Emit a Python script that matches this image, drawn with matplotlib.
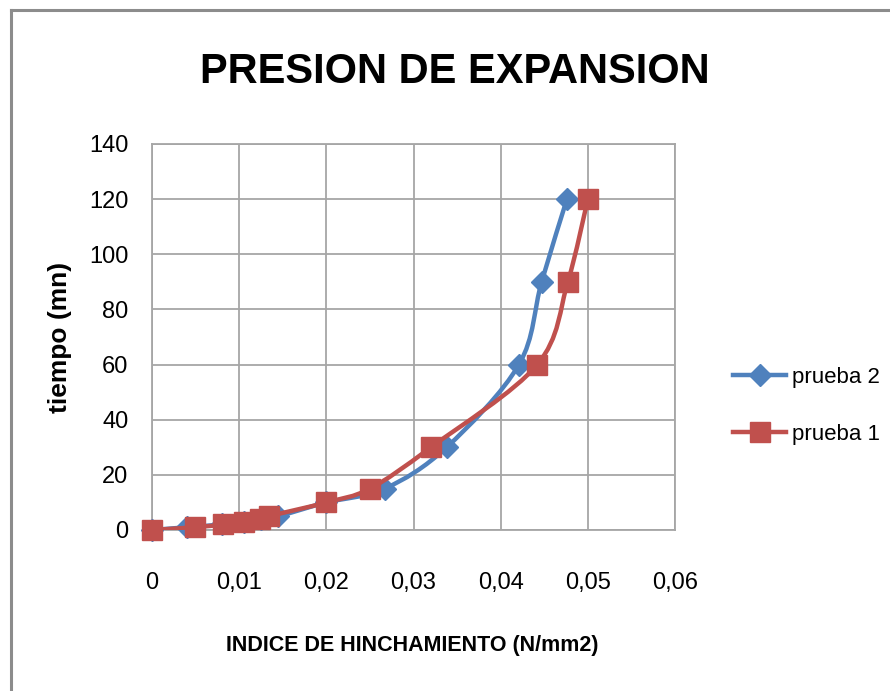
import matplotlib
matplotlib.use("Agg")
import matplotlib.pyplot as plt
from matplotlib.path import Path
from matplotlib.patches import PathPatch
from matplotlib.lines import Line2D
import numpy as np

plt.rcParams['font.family'] = ['Liberation Sans', 'DejaVu Sans']

# datos
tiempo = [0, 1, 2, 3, 4, 5, 10, 15, 30, 60, 90, 120]
indice_p1 = [0, 0.0049, 0.0082, 0.0105, 0.0124, 0.0134, 0.0200, 0.0250, 0.0320, 0.0442, 0.0477, 0.0500]
indice_p2 = [0, 0.0040, 0.0080, 0.0105, 0.0125, 0.0145, 0.0200, 0.0267, 0.0338, 0.0421, 0.0447, 0.0476]

x_ticks = [0, 0.01, 0.02, 0.03, 0.04, 0.05, 0.06]
x_labels = ['0', '0,01', '0,02', '0,03', '0,04', '0,05', '0,06']
y_ticks = [0, 20, 40, 60, 80, 100, 120, 140]

AZUL = '#4F81BD'
ROJO = '#C0504D'
GRIS = '#A6A6A6'


def linea_suave(x, y):
    """curva tipo Excel (Catmull-Rom -> Bezier) como Path"""
    pts = np.column_stack([x, y]).astype(float)
    verts = [pts[0]]
    codes = [Path.MOVETO]
    n = len(pts)
    for i in range(n - 1):
        p0 = pts[i - 1] if i > 0 else pts[i]
        p1 = pts[i]
        p2 = pts[i + 1]
        p3 = pts[i + 2] if i + 2 < n else pts[i + 1]
        c1 = p1 + (p2 - p0) / 6.0
        c2 = p2 - (p3 - p1) / 6.0
        verts += [c1, c2, p2]
        codes += [Path.CURVE4] * 3
    return Path(verts, codes)


W, H = 890, 691
fig = plt.figure(figsize=(W / 100, H / 100), dpi=100)
ax = fig.add_axes([152 / W, 1 - 530 / H, (675 - 152) / W, (530 - 144) / H])

LW = 3.2
# prueba 2 (azul) debajo, prueba 1 (rojo) encima
ax.add_patch(PathPatch(linea_suave(indice_p2, tiempo), fill=False, edgecolor=AZUL,
                       linewidth=LW, zorder=3, capstyle='round', joinstyle='round'))
ax.plot(indice_p2, tiempo, linestyle='none', marker='D', markersize=11,
        color=AZUL, zorder=4, clip_on=False)
ax.add_patch(PathPatch(linea_suave(indice_p1, tiempo), fill=False, edgecolor=ROJO,
                       linewidth=LW, zorder=5, capstyle='round', joinstyle='round'))
ax.plot(indice_p1, tiempo, linestyle='none', marker='s', markersize=14,
        color=ROJO, zorder=6, clip_on=False)

ax.set_xlim(0, 0.06)
ax.set_ylim(0, 140)
ax.set_xticks(x_ticks)
ax.set_xticklabels(x_labels)
ax.set_yticks(y_ticks)
ax.tick_params(length=0, labelsize=17, colors='#000000')
ax.tick_params(axis='x', pad=30)
ax.tick_params(axis='y', pad=17)
ax.grid(True, color=GRIS, linewidth=1.3)
ax.set_axisbelow(True)
for s in ax.spines.values():
    s.set_color(GRIS)
    s.set_linewidth(1.3)

fig.text(60 / W, 1 - 337 / H, 'tiempo (mn)', rotation=90, ha='center', va='center',
         fontsize=19, fontweight='bold')
fig.text(412 / W, 1 - 645 / H, 'INDICE DE HINCHAMIENTO (N/mm2)', ha='center', va='center',
         fontsize=15.5, fontweight='bold')
fig.text(455 / W, 1 - 72 / H, 'PRESION DE EXPANSION', ha='center', va='center',
         fontsize=30, fontweight='bold')

handles = [Line2D([], [], color=AZUL, linewidth=LW, marker='D', markersize=11),
           Line2D([], [], color=ROJO, linewidth=LW, marker='s', markersize=14)]
fig.legend(handles, ['prueba 2', 'prueba 1'], loc='center left', frameon=False,
           bbox_to_anchor=(733 / W, 1 - 406 / H), bbox_transform=fig.transFigure,
           fontsize=16, handlelength=2.4, handletextpad=0.25, labelspacing=1.6,
           borderpad=0, borderaxespad=0)

# marco del grafico
fig.add_artist(Line2D([11 / W, 11 / W], [0, 1 - 10 / H], color='#8C8C8C', linewidth=2.2,
                      transform=fig.transFigure))
fig.add_artist(Line2D([11 / W, 1], [1 - 10 / H, 1 - 10 / H], color='#8C8C8C', linewidth=2.2,
                      transform=fig.transFigure))

fig.savefig('out.png', dpi=100)
